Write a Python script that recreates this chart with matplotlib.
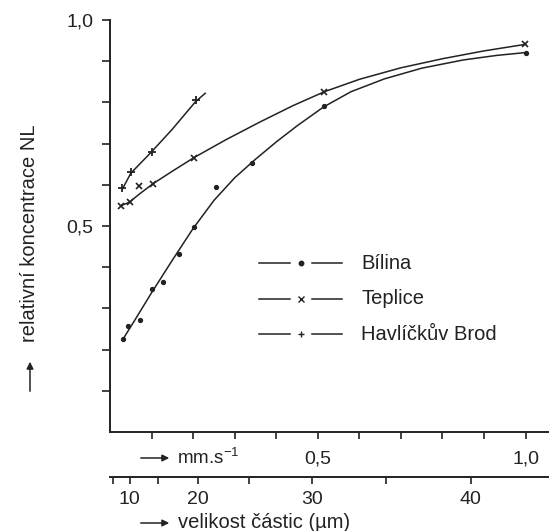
import numpy as np
import matplotlib
matplotlib.use("Agg")
import matplotlib.pyplot as plt

plt.rcParams['font.family'] = ['Liberation Sans', 'DejaVu Sans']
plt.rcParams['mathtext.fontset'] = 'custom'
plt.rcParams['mathtext.rm'] = 'Liberation Sans'

INK = '#222222'

# measured points (x = settling velocity mm/s, y = relative concentration)
bilina_x = [0.031, 0.043, 0.072, 0.10, 0.128, 0.166, 0.202, 0.255, 0.341, 0.514, 1.0]
bilina_y = [0.225, 0.257, 0.272, 0.346, 0.365, 0.432, 0.497, 0.594, 0.652, 0.792, 0.921]
teplice_x = [0.026, 0.047, 0.07, 0.104, 0.202, 0.516, 0.998]
teplice_y = [0.549, 0.558, 0.597, 0.603, 0.666, 0.826, 0.941]
havl_x = [0.03, 0.05, 0.10, 0.206]
havl_y = [0.593, 0.632, 0.680, 0.805]

# hand drawn curves
bilina_curve_x = [0.031, 0.06, 0.10, 0.15, 0.20, 0.25, 0.30, 0.35, 0.40, 0.45, 0.514, 0.58, 0.66, 0.75, 0.85, 0.93, 1.0]
bilina_curve_y = [0.225, 0.272, 0.338, 0.417, 0.494, 0.562, 0.617, 0.662, 0.704, 0.743, 0.789, 0.826, 0.857, 0.883, 0.903, 0.914, 0.921]
teplice_curve_x = [0.026, 0.047, 0.07, 0.104, 0.15, 0.202, 0.28, 0.36, 0.44, 0.516, 0.60, 0.70, 0.80, 0.90, 1.0]
teplice_curve_y = [0.549, 0.558, 0.577, 0.603, 0.633, 0.666, 0.710, 0.752, 0.792, 0.826, 0.856, 0.884, 0.906, 0.925, 0.941]
havl_curve_x = [0.03, 0.05, 0.10, 0.15, 0.206, 0.229]
havl_curve_y = [0.590, 0.628, 0.680, 0.735, 0.802, 0.822]

# particle size axis (um) and its tick sizes
size_major = [10, 20, 30, 40]
size_minor = [5, 15, 25, 35]

W, H = 549, 531


def px(x, y):
    # pixel position -> figure fraction
    return (x / W, 1 - y / H)


def v_to_d(v):
    return np.sqrt(np.clip(np.asarray(v, dtype=float) + 0.007, 0, None) / 0.000547)


def d_to_v(d):
    return 0.000547 * np.asarray(d, dtype=float) ** 2 - 0.007


fig = plt.figure(figsize=(W / 100, H / 100), dpi=100)
ax = fig.add_axes([110 / W, 1 - 432 / H, (W - 110) / W, (432 - 20) / H])
ax.set_xlim(0, (W - 110) / 415.6)
ax.set_ylim(0, 1.0)

ax.plot(bilina_curve_x, bilina_curve_y, color=INK, lw=1.1)
ax.plot(teplice_curve_x, teplice_curve_y, color=INK, lw=1.1)
ax.plot(havl_curve_x, havl_curve_y, color=INK, lw=1.1)
ax.plot(bilina_x, bilina_y, 'o', color=INK, ms=2.8, ls='none')
ax.plot(teplice_x, teplice_y, 'x', color=INK, ms=5, mew=1.2, ls='none')
ax.plot(havl_x, havl_y, '+', color=INK, ms=6, mew=1.3, ls='none')

for s in ['top', 'right']:
    ax.spines[s].set_visible(False)
for s in ['left', 'bottom']:
    ax.spines[s].set_linewidth(1.4)
    ax.spines[s].set_color(INK)

xt = np.round(np.arange(0.1, 1.01, 0.1), 1)
ax.set_xticks(xt)
ax.set_xticklabels(['0,5' if v == 0.5 else '1,0' if v == 1.0 else '' for v in xt])
ax.set_yticks(xt)
ax.set_yticklabels(['0,5' if v == 0.5 else '1,0' if v == 1.0 else '' for v in xt])
ax.tick_params(axis='x', direction='out', length=5, width=1.2, colors=INK, labelsize=14, pad=8)
ax.tick_params(axis='y', direction='out', length=6, width=1.2, colors=INK, labelsize=14, pad=6)

# second scale: particle size
sec = ax.secondary_xaxis(-(477 - 432) / (432 - 20), functions=(v_to_d, d_to_v))
sec.set_xticks(size_major)
sec.set_xticks(size_minor, minor=True)
sec.set_xticklabels([str(d) for d in size_major])
sec.tick_params(axis='x', which='both', direction='out', length=5, width=1.2, colors=INK, labelsize=14, pad=5)
sec.spines['bottom'].set_linewidth(1.4)
sec.spines['bottom'].set_color(INK)

arrow = dict(arrowstyle='-|>', color=INK, lw=1.1, mutation_scale=10)
fig.add_artist(matplotlib.patches.FancyArrowPatch(px(138, 458), px(172, 458), transform=fig.transFigure, **arrow))
fig.text(*px(177, 458), 'mm.s$^{\\mathregular{-1}}$', fontsize=13.5, color=INK, va='center')
fig.add_artist(matplotlib.patches.FancyArrowPatch(px(138, 523), px(172, 523), transform=fig.transFigure, **arrow))
fig.text(*px(178, 523), 'velikost částic (µm)', fontsize=14.5, color=INK, va='center')

fig.add_artist(matplotlib.patches.FancyArrowPatch(px(30, 394), px(30, 359), transform=fig.transFigure, **arrow))
fig.text(*px(30, 233), 'relativní koncentrace NL', fontsize=14.5, color=INK, rotation=90, ha='center', va='center')

# legend drawn by hand
legend_rows = [('Bílina', 'o', 3.2), ('Teplice', 'x', 4.5), ('Havlíčkův Brod', '+', 5)]
for i, (name, m, ms) in enumerate(legend_rows):
    y = 263 + i * 35.7
    for x0, x1 in [(259, 290), (312, 342)]:
        fig.add_artist(plt.Line2D([x0 / W, x1 / W], [1 - y / H] * 2, color=INK, lw=1.1, transform=fig.transFigure))
    fig.add_artist(plt.Line2D([301 / W], [1 - y / H], marker=m, ms=ms, mew=1.0, color=INK, transform=fig.transFigure))
    fig.text(*px(361, y), name, fontsize=14.5, color=INK, va='center')

fig.savefig('out.png', dpi=100, facecolor='white')
